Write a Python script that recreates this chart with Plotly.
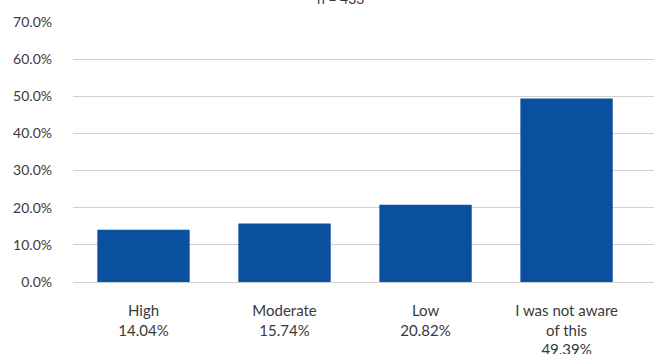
import plotly.graph_objects as go

# Survey responses: share of respondents per level
categories = ["High", "Moderate", "Low", "I was not aware<br>of this"]
shares = [14.04, 15.74, 20.82, 49.39]
y_ticks = [0, 10, 20, 30, 40, 50, 60, 70]
y_tick_labels = [f"{v:.1f}%" for v in y_ticks]
sample_note = "n = 433"

tick_text = [f"{c}<br>{v:.2f}%" for c, v in zip(categories, shares)]
x_pos = list(range(len(categories)))

fig = go.Figure(
    go.Bar(
        x=x_pos,
        y=shares,
        width=0.655,
        marker=dict(color="#0B509E", line=dict(width=0)),
        hoverinfo="skip",
    )
)

font_family = "Lato, 'Open Sans', sans-serif"
text_color = "#3a3a3a"

fig.update_layout(
    width=654,
    height=354,
    margin=dict(l=73, r=0, t=22, b=72, autoexpand=False),
    paper_bgcolor="white",
    plot_bgcolor="white",
    showlegend=False,
    font=dict(family=font_family, size=14, color=text_color),
    xaxis=dict(
        range=[-0.5, 3.62],
        tickmode="array",
        tickvals=x_pos,
        ticktext=tick_text,
        showgrid=False,
        zeroline=False,
        showline=False,
        ticks="",
        tickfont=dict(size=15, color=text_color),
        ticklabelstandoff=18,
        automargin=False,
    ),
    yaxis=dict(
        range=[0, 70],
        tickmode="array",
        tickvals=y_ticks,
        ticktext=y_tick_labels,
        showgrid=True,
        gridcolor="#d0d0d0",
        gridwidth=1,
        zeroline=True,
        zerolinecolor="#d0d0d0",
        zerolinewidth=1,
        showline=False,
        ticks="",
        ticklabelstandoff=20,
        tickfont=dict(size=14, color=text_color),
        automargin=False,
    ),
    annotations=[
        dict(
            text=sample_note,
            xref="paper",
            yref="paper",
            x=(340 - 73) / 581,
            y=1 + (22 - 9) / 260,
            xanchor="center",
            yanchor="bottom",
            showarrow=False,
            font=dict(size=14, color=text_color, family=font_family),
        )
    ],
)

fig.write_html("out.html")
